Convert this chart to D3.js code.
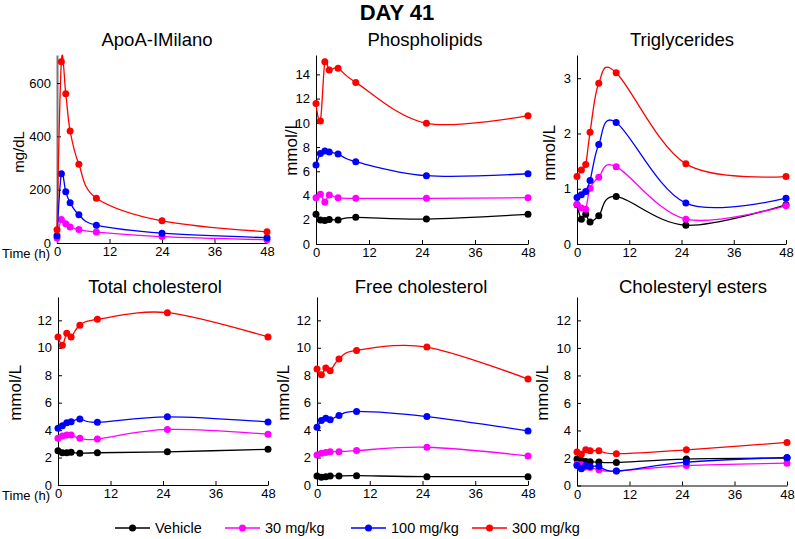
<!DOCTYPE html>
<html>
<head>
<meta charset="utf-8">
<script src="https://cdn.jsdelivr.net/npm/d3@7"></script>
<style>
  body { margin: 0; background: #fff; }
  svg { font-family: "Liberation Sans", Arial, sans-serif; }
  .axis path, .axis line { stroke: #000; stroke-width: 1; }
  .axis text { font-size: 13px; fill: #000; font-family: "Liberation Sans", Arial, sans-serif; }
</style>
</head>
<body>
<svg id="chart" width="795" height="539"></svg>
<script>
// -------------------------------------------------------------------------
// Data

const timesH = [0, 1, 2, 3, 5, 9, 25, 48];
const apoTimesH = [0, 1, 2, 3, 5, 9, 24, 48];
const timeTicks = [0, 12, 24, 36, 48];
const groupNames = ['Vehicle', '30 mg/kg', '100 mg/kg', '300 mg/kg'];

// ApoA-IMilano, mg/dL (vehicle has none)
const apo30 = [19, 88, 72, 60, 51, 41, 24, 12];
const apo100 = [27, 260, 192, 151, 106, 67, 37, 20];
const apo300 = [50, 680, 560, 420, 295, 168, 83, 42];

// Phospholipids, mmol/L
const phVehicle = [2.45, 1.98, 1.95, 2.03, 1.98, 2.2, 2.06, 2.45];
const ph30 = [3.82, 4.1, 3.47, 4.04, 3.82, 3.77, 3.77, 3.82];
const ph100 = [6.52, 7.48, 7.67, 7.59, 7.43, 6.79, 5.64, 5.8];
const ph300 = [11.6, 10.15, 15.04, 14.36, 14.5, 13.34, 9.96, 10.59];

// Triglycerides, mmol/L
const tgVehicle = [0.71, 0.45, 0.54, 0.4, 0.51, 0.86, 0.34, 0.71];
const tg30 = [0.72, 0.65, 0.63, 1.01, 1.21, 1.4, 0.45, 0.69];
const tg100 = [0.84, 0.89, 0.95, 1.15, 1.8, 2.2, 0.74, 0.83];
const tg300 = [1.22, 1.34, 1.44, 2.02, 2.91, 3.1, 1.45, 1.22];

// Total cholesterol, mmol/L
const tcVehicle = [2.5, 2.35, 2.35, 2.38, 2.31, 2.35, 2.42, 2.6];
const tc30 = [3.4, 3.57, 3.64, 3.64, 3.4, 3.35, 4.05, 3.7];
const tc100 = [4.13, 4.32, 4.54, 4.61, 4.81, 4.57, 4.97, 4.6];
const tc300 = [10.79, 10.18, 11.05, 10.79, 11.65, 12.07, 12.56, 10.79];

// Free cholesterol, mmol/L
const fcVehicle = [0.66, 0.56, 0.61, 0.66, 0.66, 0.68, 0.61, 0.61];
const fc30 = [2.19, 2.31, 2.36, 2.43, 2.43, 2.51, 2.75, 2.12];
const fc100 = [4.21, 4.7, 4.87, 4.75, 5.06, 5.36, 4.99, 3.94];
const fc300 = [8.45, 8.03, 8.52, 8.33, 9.18, 9.81, 10.05, 7.72];

// Cholesteryl esters, mmol/L
const ceVehicle = [1.92, 1.82, 1.75, 1.72, 1.7, 1.67, 1.92, 1.99];
const ce30 = [1.55, 1.5, 1.35, 1.3, 1.15, 1.05, 1.45, 1.62];
const ce100 = [1.45, 1.22, 1.45, 1.38, 1.4, 1.05, 1.7, 2.04];
const ce300 = [2.43, 2.28, 2.6, 2.52, 2.52, 2.31, 2.59, 3.13];

// -------------------------------------------------------------------------
// Styles / layout

const groupColors = ['#000000', '#ff00ff', '#0000ff', '#ff0000'];

const panels = [
  { title: 'ApoA-IMilano', unit: 'mg/dL', times: apoTimesH,
    series: [null, apo30, apo100, apo300], yMax: 705, yTicks: [0, 200, 400, 600] },
  { title: 'Phospholipids', unit: 'mmol/L', times: timesH,
    series: [phVehicle, ph30, ph100, ph300], yMax: 15.6, yTicks: d3.range(0, 15, 2) },
  { title: 'Triglycerides', unit: 'mmol/L', times: timesH,
    series: [tgVehicle, tg30, tg100, tg300], yMax: 3.42, yTicks: [0, 1, 2, 3] },
  { title: 'Total cholesterol', unit: 'mmol/L', times: timesH,
    series: [tcVehicle, tc30, tc100, tc300], yMax: 13.7, yTicks: d3.range(0, 13, 2) },
  { title: 'Free cholesterol', unit: 'mmol/L', times: timesH,
    series: [fcVehicle, fc30, fc100, fc300], yMax: 13.7, yTicks: d3.range(0, 13, 2) },
  { title: 'Cholesteryl esters', unit: 'mmol/L', times: timesH,
    series: [ceVehicle, ce30, ce100, ce300], yMax: 13.7, yTicks: d3.range(0, 13, 2) }
];

const panelLayout = [
  { x: [57, 267], y: [243, 55], title: [157, 46], unit: [19, 152], unitSize: 15, timeLabel: true },
  { x: [316, 528], y: [244, 55], title: [425, 46], unit: [291, 148], unitSize: 17 },
  { x: [577, 786], y: [244, 55], title: [682, 46], unit: [549, 153], unitSize: 17 },
  { x: [58, 268], y: [485, 297], title: [155, 293], unit: [15, 393], unitSize: 17, timeLabel: true },
  { x: [317, 528], y: [485, 297], title: [421, 293], unit: [283, 393], unitSize: 17 },
  { x: [577, 787], y: [485.5, 297], title: [693, 293], unit: [542, 393], unitSize: 17 }
];

const svg = d3.select('#chart');

svg.append('text')
  .attr('x', 397)
  .attr('y', 20)
  .attr('text-anchor', 'middle')
  .attr('font-weight', 'bold')
  .attr('font-size', 22)
  .text('DAY 41');

/**
 * @function drawPanel
 * draws one small multiple: axes, title, unit and the four dose groups
 */
function drawPanel(panel, layout) {
  const x = d3.scaleLinear().domain([0, 48]).range(layout.x);
  const y = d3.scaleLinear().domain([0, panel.yMax]).range(layout.y);
  const g = svg.append('g');

  g.append('g')
    .attr('class', 'axis')
    .attr('transform', `translate(0,${layout.y[0]})`)
    .call(d3.axisBottom(x).tickValues(timeTicks).tickFormat(d3.format('d'))
      .tickSizeInner(-4).tickSizeOuter(0).tickPadding(4));

  const yAxis = g.append('g')
    .attr('class', 'axis')
    .attr('transform', `translate(${layout.x[0]},0)`)
    .call(d3.axisLeft(y).tickValues(panel.yTicks).tickFormat(d3.format('d'))
      .tickSizeInner(-4).tickSizeOuter(0).tickPadding(6));
  if (panel.unit === 'mg/dL') {
    yAxis.select('.domain').style('stroke', '#777').style('stroke-width', 2);
  }

  g.append('text')
    .attr('x', layout.title[0])
    .attr('y', layout.title[1])
    .attr('text-anchor', 'middle')
    .attr('font-size', 18.5)
    .text(panel.title);

  g.append('text')
    .attr('transform', `translate(${layout.unit[0]},${layout.unit[1]}) rotate(-90)`)
    .attr('text-anchor', 'middle')
    .attr('dy', '0.35em')
    .attr('font-size', layout.unitSize)
    .text(panel.unit);

  if (layout.timeLabel) {
    g.append('text')
      .attr('x', 50)
      .attr('y', layout.y[0] + 15)
      .attr('text-anchor', 'end')
      .attr('font-size', 13)
      .text('Time (h)');
  }

  // uniform Catmull-Rom, like the smoothed lines of the original plot
  const line = d3.line()
    .x((d, i) => x(panel.times[i]))
    .y(d => y(d))
    .curve(d3.curveCardinal.tension(0));

  panel.series.forEach((values, k) => {
    if (!values) {
      return;
    }
    const sg = g.append('g');
    sg.append('path')
      .attr('d', line(values))
      .attr('fill', 'none')
      .attr('stroke', groupColors[k])
      .attr('stroke-width', 1.3);
    sg.selectAll('circle')
      .data(values)
      .enter()
      .append('circle')
      .attr('cx', (d, i) => x(panel.times[i]))
      .attr('cy', d => y(d))
      .attr('r', 3.5)
      .attr('fill', groupColors[k]);
  });
}

panels.forEach((p, i) => drawPanel(p, panelLayout[i]));

// legend
const legendX = [115, 225, 351, 472];
const legend = svg.append('g').attr('transform', 'translate(0,528)');
groupNames.forEach((name, k) => {
  const item = legend.append('g').attr('transform', `translate(${legendX[k]},0)`);
  item.append('line')
    .attr('x1', 0).attr('x2', 35)
    .attr('stroke', groupColors[k])
    .attr('stroke-width', 1.3);
  item.append('circle')
    .attr('cx', 17.5)
    .attr('r', 3.5)
    .attr('fill', groupColors[k]);
  item.append('text')
    .attr('x', 40)
    .attr('dy', '0.35em')
    .attr('font-size', 14.5)
    .text(name);
});
</script>
</body>
</html>
